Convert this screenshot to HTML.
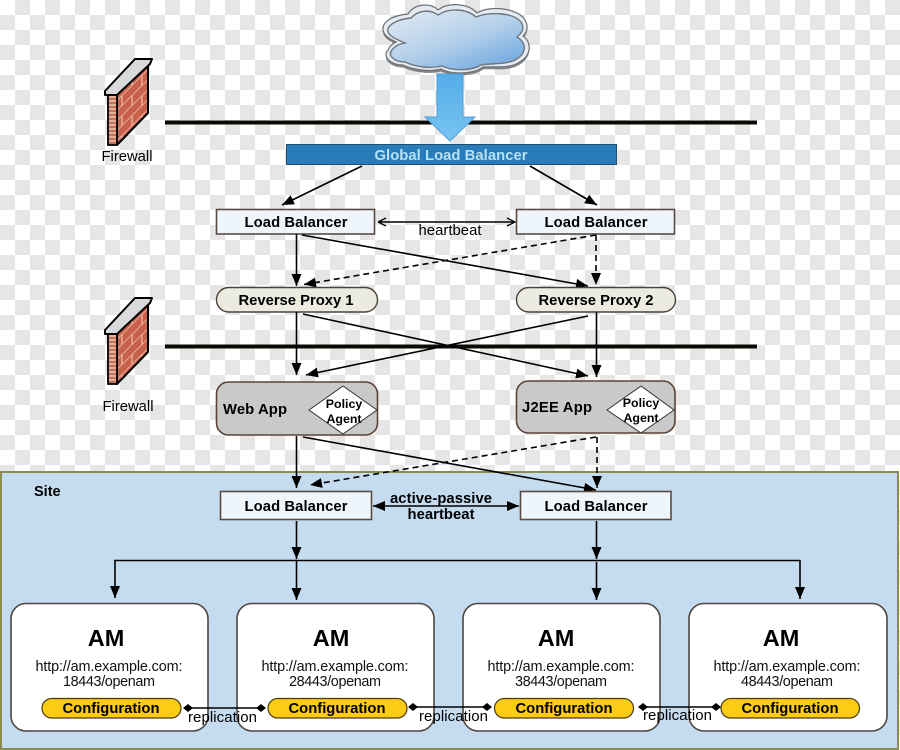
<!DOCTYPE html>
<html><head><meta charset="utf-8"><title>OpenAM deployment diagram</title>
<style>html,body{margin:0;padding:0;background:#fff}svg{display:block}
text{font-family:"Liberation Sans",sans-serif;fill:#000}
.b{font-weight:bold;font-size:14.8px;text-anchor:middle}
.r{font-size:14.8px;text-anchor:middle}
.am{font-weight:bold;font-size:23.5px;text-anchor:middle}
.u{font-size:14.4px;text-anchor:middle;fill:#111}
.p{font-weight:bold;font-size:12.4px;text-anchor:middle}
.l{fill:none;stroke:#000;stroke-width:1.6}
.d{fill:none;stroke:#000;stroke-width:1.6;stroke-dasharray:6 4}
.box{fill:#eef6fc;stroke:#5a4a40;stroke-width:1.6}
.rp{fill:#ecebdf;stroke:#4a4238;stroke-width:1.4}
.app{fill:#c9c9c9;stroke:#5a4438;stroke-width:1.6}
.am-box{fill:#fff;stroke:#4e4640;stroke-width:1.6}
.cfg{fill:#fccb14;stroke:#4a3c10;stroke-width:1.2}
</style></head><body>
<svg width="900" height="750" viewBox="0 0 900 750" xmlns="http://www.w3.org/2000/svg">
<defs>
<pattern id="ck" width="30" height="30" patternUnits="userSpaceOnUse">
<rect width="30" height="30" fill="#fff"/><rect x="15" width="15" height="15" fill="#e6e6e6"/><rect y="15" width="15" height="15" fill="#e6e6e6"/>
</pattern>
<pattern id="br" width="20" height="20" patternUnits="userSpaceOnUse" patternTransform="matrix(1,-1,0,1,117,100)">
<rect width="20" height="20" fill="#c8604c"/>
<path d="M0 .5H20M0 10.5H20M5 0V10M15 10V20" stroke="#f0c8a8" stroke-width="1.1" fill="none"/>
</pattern>
<pattern id="bl" width="9" height="8" patternUnits="userSpaceOnUse">
<rect width="9" height="8" fill="#c8705c"/><path d="M0 1H9M0 5H9" stroke="#f4d8bc" stroke-width="1.2"/>
</pattern>
<linearGradient id="cg" x1="0.1" y1="0" x2="0.9" y2="1">
<stop offset="0" stop-color="#dfe9f3"/><stop offset=".5" stop-color="#b5d0ea"/><stop offset="1" stop-color="#6ba6e0"/>
</linearGradient>
<linearGradient id="ag" x1="0" y1="0" x2="0" y2="1">
<stop offset="0" stop-color="#54ace8"/><stop offset="1" stop-color="#78c4f2"/>
</linearGradient>
<marker id="a" markerUnits="userSpaceOnUse" markerWidth="14" markerHeight="12" refX="12" refY="5" orient="auto">
<path d="M0 0L12 5L0 10z" fill="#000"/>
</marker>
<marker id="as" markerUnits="userSpaceOnUse" markerWidth="14" markerHeight="12" refX="0" refY="5" orient="auto">
<path d="M12 0L0 5L12 10z" fill="#000"/>
</marker>
<marker id="o" markerUnits="userSpaceOnUse" markerWidth="12" markerHeight="12" refX="10" refY="5" orient="auto">
<path d="M2 1L10 5L2 9" fill="none" stroke="#000" stroke-width="1.3"/>
</marker>
<marker id="os" markerUnits="userSpaceOnUse" markerWidth="12" markerHeight="12" refX="0" refY="5" orient="auto">
<path d="M8 1L0 5L8 9" fill="none" stroke="#000" stroke-width="1.3"/>
</marker>
<g id="fw">
<polygon points="117,145 148,113 148,62 117,95" fill="url(#br)" stroke="#000" stroke-width="2" stroke-linejoin="round"/>
<polygon points="108,95 117,95 117,145 108,145" fill="url(#bl)" stroke="#000" stroke-width="1.8"/>
<polygon points="105,95 105,91 135,59 152,59 150,64 117,95" fill="#d9dadb" stroke="#000" stroke-width="2" stroke-linejoin="round"/>
</g>
</defs>
<rect width="900" height="750" fill="url(#ck)"/>

<!-- site -->
<rect x="1" y="472" width="897" height="277" fill="#c5dcf0" stroke="#8c8c50" stroke-width="2"/>
<text x="34" y="496" font-size="14.5" font-weight="bold">Site</text>

<!-- firewall lines -->
<rect x="165" y="120.5" width="592" height="4" fill="#0c0804"/>
<rect x="165" y="344.5" width="592" height="4" fill="#0c0804"/>

<use href="#fw"/>
<use href="#fw" y="239"/>
<text x="127" y="161" font-size="14.8" text-anchor="middle" textLength="51">Firewall</text>
<text x="128" y="411" font-size="14.8" text-anchor="middle" textLength="51">Firewall</text>

<!-- cloud -->
<path d="M383 30C382 20 396 15 408 14C414 4 430 2 438 10C448 2 468 3 477 13C490 5 518 8 525 20C529 27 527 32 523 36C532 42 532 56 518 63C508 69 492 66 483 67C474 74 452 75 441 69C430 72 414 70 403 65C390 65 382 56 388 50C390 46 393 43 396 42C390 39 384 36 383 30Z" fill="#858585" transform="translate(0,2.5)"/>
<path d="M383 30C382 20 396 15 408 14C414 4 430 2 438 10C448 2 468 3 477 13C490 5 518 8 525 20C529 27 527 32 523 36C532 42 532 56 518 63C508 69 492 66 483 67C474 74 452 75 441 69C430 72 414 70 403 65C390 65 382 56 388 50C390 46 393 43 396 42C390 39 384 36 383 30Z" fill="#e4ebf2" stroke="#6c7074" stroke-width="1.2"/>
<path d="M388 32C386 24 400 19 411 18C418 10 430 9 438 15C448 8 466 8 476 17C490 11 514 13 521 22C525 28 522 33 517 37C527 43 527 54 515 60C506 65 490 63 481 65C472 71 452 71 442 66C430 69 416 67 405 62C394 62 387 55 392 50C396 45 400 44 405 43C398 40 390 37 388 32Z" fill="url(#cg)" stroke="#70767c" stroke-width="1.4"/>

<!-- down arrow -->
<polygon points="437,74 463,74 463,117 475,117 450,141 425,117 437,117" fill="url(#ag)" stroke="#4f9fd8" stroke-width="1"/>

<!-- GLB -->
<rect x="286.5" y="144.5" width="330" height="20" fill="#2a7cb8" stroke="#1f4f74" stroke-width="1"/>
<text x="451" y="160" font-size="14.8" font-weight="bold" text-anchor="middle" style="fill:#b4e2f6" textLength="153">Global Load Balancer</text>

<line class="l" x1="362" y1="166" x2="282" y2="205" marker-end="url(#a)"/>
<line class="l" x1="530" y1="166" x2="597" y2="205" marker-end="url(#a)"/>

<!-- LB row 1 -->
<rect class="box" x="216.5" y="209.5" width="158" height="24.5"/>
<rect class="box" x="516.5" y="209.5" width="158" height="24.5"/>
<text class="b" x="296" y="227" textLength="103">Load Balancer</text>
<text class="b" x="596" y="227" textLength="103">Load Balancer</text>
<line x1="378" y1="222" x2="515" y2="222" class="l" marker-start="url(#os)" marker-end="url(#o)"/>
<text class="r" x="450" y="235" textLength="63">heartbeat</text>

<line class="l" x1="296.5" y1="234" x2="296.5" y2="286" marker-end="url(#a)"/>
<line class="l" x1="302" y1="235" x2="588" y2="286" marker-end="url(#a)"/>
<line class="d" x1="596" y1="235" x2="304" y2="284.5" marker-end="url(#a)"/>
<line class="d" x1="596" y1="235" x2="596" y2="285" marker-end="url(#a)"/>

<!-- RP -->
<rect class="rp" x="216.5" y="287.5" width="161" height="24.5" rx="12.2"/>
<rect class="rp" x="516.5" y="287.5" width="159" height="24.5" rx="12.2"/>
<text class="b" x="296" y="305" textLength="115">Reverse Proxy 1</text>
<text class="b" x="596" y="305" textLength="115">Reverse Proxy 2</text>

<line class="l" x1="296.5" y1="312" x2="296.5" y2="375" marker-end="url(#a)"/>
<line class="l" x1="303" y1="314" x2="588" y2="376" marker-end="url(#a)"/>
<line class="l" x1="588" y1="316" x2="306" y2="375" marker-end="url(#a)"/>
<line class="l" x1="596.5" y1="312" x2="596.5" y2="377" marker-end="url(#a)"/>

<!-- Apps -->
<rect class="app" x="216.5" y="382" width="161" height="53" rx="12"/>
<rect class="app" x="516.5" y="381" width="158.5" height="52" rx="12"/>
<text x="223" y="414" font-size="14.8" font-weight="bold" textLength="64">Web App</text>
<text x="522" y="412" font-size="14.8" font-weight="bold" textLength="70">J2EE App</text>
<polygon points="309,410 343,386 377,410 343,434" fill="#fff" stroke="#333" stroke-width="1"/>
<polygon points="607,410 641,386 674,410 641,433" fill="#fff" stroke="#333" stroke-width="1"/>
<text class="p" x="344" y="408">Policy</text>
<text class="p" x="344" y="423">Agent</text>
<text class="p" x="641" y="407">Policy</text>
<text class="p" x="641" y="422">Agent</text>

<line class="l" x1="296.5" y1="436" x2="296.5" y2="488" marker-end="url(#a)"/>
<line class="l" x1="303" y1="437" x2="596" y2="490" marker-end="url(#a)"/>
<line class="d" x1="596" y1="437" x2="310" y2="485" marker-end="url(#a)"/>
<line class="d" x1="597" y1="437" x2="597" y2="488" marker-end="url(#a)"/>

<!-- LB row 2 -->
<rect class="box" x="220.5" y="491.5" width="151" height="28"/>
<rect class="box" x="520.5" y="491.5" width="150.5" height="28"/>
<text class="b" x="296" y="511" textLength="103">Load Balancer</text>
<text class="b" x="596" y="511" textLength="103">Load Balancer</text>
<line x1="373" y1="506" x2="519" y2="506" class="l" marker-start="url(#as)" marker-end="url(#a)"/>
<text class="b" x="441" y="503" textLength="102">active-passive</text>
<text class="b" x="441" y="519" textLength="67">heartbeat</text>

<line class="l" x1="296.5" y1="521" x2="296.5" y2="559" marker-end="url(#a)"/>
<line class="l" x1="596.5" y1="521" x2="596.5" y2="559" marker-end="url(#a)"/>
<line class="l" x1="114" y1="560.5" x2="800" y2="560.5"/>
<line class="l" x1="115" y1="560" x2="115" y2="598" marker-end="url(#a)"/>
<line class="l" x1="296.5" y1="561" x2="296.5" y2="600" marker-end="url(#a)"/>
<line class="l" x1="596.5" y1="562" x2="596.5" y2="600" marker-end="url(#a)"/>
<line class="l" x1="800" y1="560" x2="800" y2="599" marker-end="url(#a)"/>

<!-- AM boxes -->
<rect class="am-box" x="11" y="603.5" width="197" height="127.5" rx="15"/>
<rect class="am-box" x="237" y="603.5" width="197" height="127.5" rx="15"/>
<rect class="am-box" x="463" y="603.5" width="197" height="127.5" rx="15"/>
<rect class="am-box" x="689" y="603.5" width="198" height="127.5" rx="15"/>

<text class="am" x="106" y="646">AM</text>
<text class="am" x="331" y="646">AM</text>
<text class="am" x="556" y="646">AM</text>
<text class="am" x="781" y="646">AM</text>

<text class="u" x="109" y="671" textLength="147">http://am.example.com:</text>
<text class="u" x="109" y="686" textLength="92">18443/openam</text>
<text class="u" x="335" y="671" textLength="147">http://am.example.com:</text>
<text class="u" x="335" y="686" textLength="92">28443/openam</text>
<text class="u" x="561" y="671" textLength="147">http://am.example.com:</text>
<text class="u" x="561" y="686" textLength="92">38443/openam</text>
<text class="u" x="787" y="671" textLength="147">http://am.example.com:</text>
<text class="u" x="787" y="686" textLength="92">48443/openam</text>

<rect class="cfg" x="42" y="698.5" width="139" height="19.5" rx="9.7"/>
<rect class="cfg" x="268" y="698.5" width="139" height="19.5" rx="9.7"/>
<rect class="cfg" x="494.5" y="698.5" width="139" height="19.5" rx="9.7"/>
<rect class="cfg" x="721" y="698.5" width="138.5" height="19.5" rx="9.7"/>
<text class="b" x="111" y="713" textLength="97">Configuration</text>
<text class="b" x="337" y="713" textLength="97">Configuration</text>
<text class="b" x="564" y="713" textLength="97">Configuration</text>
<text class="b" x="790" y="713" textLength="97">Configuration</text>

<!-- replication -->
<g fill="#000">
<line class="l" x1="188" y1="708" x2="261" y2="708"/>
<polygon points="183,708 188,704 193,708 188,712"/>
<polygon points="256,708 261,704 266,708 261,712"/>
<line class="l" x1="413" y1="707" x2="487" y2="707"/>
<polygon points="408,707 413,703 418,707 413,711"/>
<polygon points="482,707 487,703 492,707 487,711"/>
<line class="l" x1="643" y1="707" x2="716" y2="707"/>
<polygon points="638,707 643,703 648,707 643,711"/>
<polygon points="711,707 716,703 721,707 716,711"/>
</g>
<text x="188" y="722" font-size="15" textLength="69">replication</text>
<text x="419" y="721" font-size="15" textLength="69">replication</text>
<text x="643" y="720" font-size="15" textLength="69">replication</text>
</svg>
</body></html>
